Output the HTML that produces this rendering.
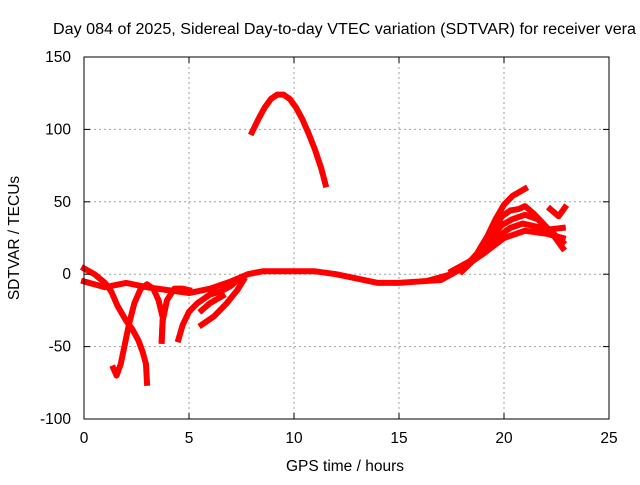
<!DOCTYPE html>
<html><head><meta charset="utf-8"><style>
body{margin:0;background:#fff}
svg{font-family:"Liberation Sans",sans-serif;font-size:15.5px}
</style></head><body>
<svg id="c" width="640" height="480">
<text x="53" y="34" textLength="583" lengthAdjust="spacingAndGlyphs">Day 084 of 2025, Sidereal Day-to-day VTEC variation (SDTVAR) for receiver vera</text>
<text x="345" y="471" text-anchor="middle">GPS time / hours</text>
<text transform="translate(19,238) rotate(-90)" text-anchor="middle">SDTVAR / TECUs</text>
<g id="grid"></g><g id="series"></g><g id="axes"></g>
</svg>
<script>
const xTicks=[0,5,10,15,20,25];
const yTicks=[-100,-50,0,50,100,150];
const arcTop=[[8,98],[8.3,107],[8.6,115],[8.9,121],[9.2,124],[9.5,124],[9.8,121],[10.1,115],[10.4,107],[10.7,97],[11,86],[11.3,73],[11.5,62]];
const baseLine=[[0,-5],[1,-9],[2,-6],[3,-9],[4,-11],[5,-13],[6,-10],[7,-5],[7.8,0],[8.5,2],[9,2],[10,2],[11,2],[12,0],[13,-3],[14,-6],[15,-6],[16,-5],[17,-4],[18,4],[19,14],[20,25],[21,30],[22,28],[22.8,25]];
const earlyDrop=[[0,4],[0.5,0],[1,-6],[1.3,-12],[1.6,-22],[2,-32],[2.3,-38],[2.6,-46],[2.8,-54],[2.95,-62],[3,-75]];
const earlyRise=[[1.4,-65],[1.55,-70],[1.75,-62],[1.95,-48],[2.15,-34],[2.4,-20],[2.7,-10],[3,-7],[3.3,-10],[3.55,-18],[3.75,-30],[3.7,-46]];
const midArc=[[3.7,-46],[3.75,-32],[3.95,-18],[4.3,-10],[4.7,-10],[5,-11]];
const lateA=[[4.5,-45],[4.7,-35],[5,-26],[5.4,-20],[6,-14],[6.5,-12],[7,-8],[7.3,-4]];
const lateB=[[5.6,-35],[6.2,-29],[6.8,-20],[7.3,-11],[7.6,-4]];
const lateC=[[5.6,-25],[6,-20],[6.6,-15]];
const endA=[[16.5,-4],[17.5,0],[18.2,6],[18.7,14],[19.2,26],[19.6,38],[20,48],[20.4,54],[21,59]];
const endB=[[18,2],[19,16],[19.5,30],[19.9,40],[20.3,44],[20.7,45],[21,47],[21.4,42],[21.8,36],[22.3,28],[22.8,18]];
const endC=[[17.5,2],[18.5,10],[19.3,24],[19.9,34],[20.4,38],[21,41],[21.6,38],[22.2,30],[22.8,22]];
const endD=[[19,15],[19.7,26],[20.3,32],[20.9,35],[21.5,33],[22.2,31],[22.8,32]];
const endE=[[22.2,45],[22.6,40],[22.9,46]];
const allSeries=[arcTop,baseLine,earlyDrop,earlyRise,midArc,lateA,lateB,lateC,endA,endB,endC,endD,endE];
const X0=84,X1=609,Y0=419,Y1=57;
const sx=v=>X0+(v-0)/(25-0)*(X1-X0);
const sy=v=>Y0-(v+100)/250*(Y0-Y1);
const NS="http://www.w3.org/2000/svg";
function mk(t,a,p){const e=document.createElementNS(NS,t);for(const k in a)e.setAttribute(k,a[k]);p.appendChild(e);return e;}
const grid=document.getElementById('grid'),axes=document.getElementById('axes'),ser=document.getElementById('series');
xTicks.forEach(t=>{
 if(t>0&&t<25){const g=mk('line',{x1:sx(t),x2:sx(t),y1:Y1,y2:Y0,stroke:'#a0a0a0','stroke-dasharray':'2,3'},grid);
 
 }
 const l=mk('text',{x:sx(t),y:Y0+24,'text-anchor':'middle'},axes);l.textContent=t;
 
 
 mk('line',{x1:sx(t),x2:sx(t),y1:Y0,y2:Y0-6,stroke:'#000'},axes);
 mk('line',{x1:sx(t),x2:sx(t),y1:Y1,y2:Y1+6,stroke:'#000'},axes);
});
yTicks.forEach(t=>{
 if(t>-100&&t<150){const g=mk('line',{x1:X0,x2:X1,y1:sy(t),y2:sy(t),stroke:'#a0a0a0','stroke-dasharray':'2,3'},grid);
 
 }
 const l=mk('text',{x:X0-13,y:sy(t)+5,'text-anchor':'end'},axes);l.textContent=t;
 
 
 mk('line',{x1:X0,x2:X0+6,y1:sy(t),y2:sy(t),stroke:'#000'},axes);
 mk('line',{x1:X1,x2:X1-6,y1:sy(t),y2:sy(t),stroke:'#000'},axes);
});
const fr=mk('rect',{x:X0,y:Y1,width:X1-X0,height:Y0-Y1,fill:'none',stroke:'#000'},axes);


allSeries.forEach(s=>{
 const p=mk('polyline',{points:s.map(d=>sx(d[0])+','+sy(d[1])).join(' '),fill:'none',stroke:'#ff0000','stroke-width':6,'stroke-linejoin':'round','stroke-linecap':'square'},ser);
 
 
});
</script>
</body></html>
